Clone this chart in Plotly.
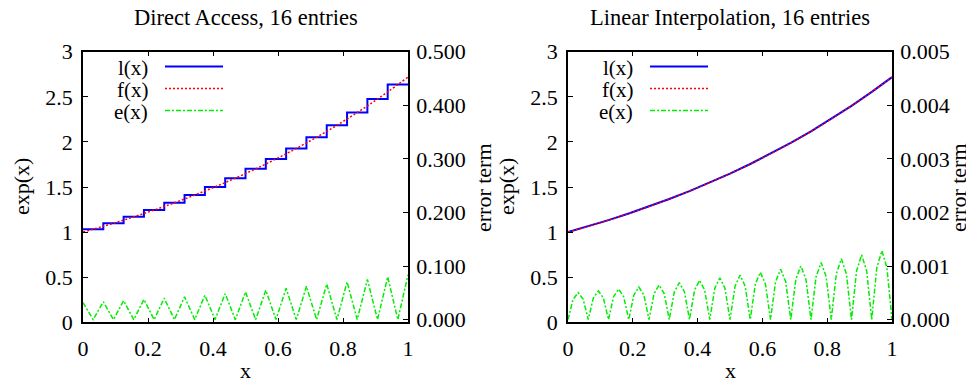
import plotly.graph_objects as go

# ---------------- data ----------------
# x positions of the 16-entry table boundaries
x_bounds = [0, 0.0625, 0.125, 0.1875, 0.25, 0.3125, 0.375, 0.4375, 0.5,
            0.5625, 0.625, 0.6875, 0.75, 0.8125, 0.875, 0.9375, 1.0]
# f(x) = exp(x) at the boundaries
f_vals = [1.000, 1.064, 1.133, 1.206, 1.284, 1.367, 1.455, 1.549, 1.649,
          1.755, 1.868, 1.989, 2.117, 2.254, 2.399, 2.554, 2.718]
# Direct access table values (step heights)
direct_table = [1.032, 1.098, 1.169, 1.245, 1.325, 1.410, 1.501, 1.598,
                1.701, 1.811, 1.928, 2.052, 2.184, 2.325, 2.475, 2.635]
# Direct access error at the boundaries (zero at interval mid-points)
direct_err_peaks = [0.0317, 0.0333, 0.0354, 0.0377, 0.0401, 0.0427, 0.0455,
                    0.0484, 0.0515, 0.0548, 0.0584, 0.0622, 0.0662, 0.0704,
                    0.0750, 0.0798, 0.0836]
# Linear interpolation error: peak at interval mid-points, and at quarter points
lin_err_peaks = [0.000504, 0.000536, 0.000571, 0.000608, 0.000647, 0.000689,
                 0.000733, 0.000780, 0.000831, 0.000884, 0.000941, 0.001002,
                 0.001066, 0.001135, 0.001209, 0.001286]
lin_err_quarter = [0.000378, 0.000402, 0.000428, 0.000456, 0.000485, 0.000517,
                   0.000550, 0.000585, 0.000623, 0.000663, 0.000706, 0.000751,
                   0.000800, 0.000851, 0.000907, 0.000965]

titles = ["Direct Access, 16 entries", "Linear Interpolation, 16 entries"]
legend_names = ["l(x)", "f(x)", "e(x)"]
x_ticks = [0, 0.2, 0.4, 0.6, 0.8, 1]
y_ticks = [0, 0.5, 1, 1.5, 2, 2.5, 3]
y2_ticks_left = [0, 0.1, 0.2, 0.3, 0.4, 0.5]
y2_ticks_right = [0, 0.001, 0.002, 0.003, 0.004, 0.005]

# ---------------- derived sequences ----------------
n = len(direct_table)
step_x = x_bounds
step_y = direct_table + [direct_table[-1]]

derr_x, derr_y = [], []
for k in range(n):
    derr_x += [x_bounds[k], (x_bounds[k] + x_bounds[k + 1]) / 2]
    derr_y += [direct_err_peaks[k], 0]
derr_x.append(x_bounds[-1])
derr_y.append(direct_err_peaks[-1])

lerr_x, lerr_y = [], []
for k in range(n):
    a, b = x_bounds[k], x_bounds[k + 1]
    h = b - a
    lerr_x += [a, a + h / 4, a + h / 2, a + 3 * h / 4]
    lerr_y += [0, lin_err_quarter[k], lin_err_peaks[k], lin_err_quarter[k]]
lerr_x.append(x_bounds[-1])
lerr_y.append(0)

# ---------------- styles ----------------
OFF = 8                            # page body margin of the html page
W, H = 974 - 2 * OFF, 386 - 2 * OFF  # figure fits the window without scrolling
FONT = "Liberation Serif"
FS = 22
BLUE, RED, GREEN = "#0000ff", "#ff0000", "#00ee00"
DOT = "2px,2px"
DASHDOT = "5px,2px,2px,2px"


def px(xp):
    return (xp - OFF) / W


def py(yp):
    return 1 - (yp - OFF) / H


fig = go.Figure()

# Left panel
fig.add_trace(go.Scatter(x=step_x, y=step_y, mode="lines", line=dict(color=BLUE, width=2, shape="hv"),
                         xaxis="x", yaxis="y", showlegend=False))
fig.add_trace(go.Scatter(x=x_bounds, y=f_vals, mode="lines", line=dict(color=RED, width=1.5, dash=DOT, shape="spline"),
                         xaxis="x", yaxis="y", showlegend=False))
fig.add_trace(go.Scatter(x=derr_x, y=derr_y, mode="lines", line=dict(color=GREEN, width=1.5, dash=DASHDOT),
                         xaxis="x", yaxis="y2", showlegend=False))

# Right panel
fig.add_trace(go.Scatter(x=x_bounds, y=f_vals, mode="lines", line=dict(color=BLUE, width=2),
                         xaxis="x2", yaxis="y3", showlegend=False))
fig.add_trace(go.Scatter(x=x_bounds, y=f_vals, mode="lines", line=dict(color=RED, width=1.5, dash=DOT, shape="spline"),
                         xaxis="x2", yaxis="y3", showlegend=False))
fig.add_trace(go.Scatter(x=lerr_x, y=lerr_y, mode="lines", line=dict(color=GREEN, width=1.5, dash=DASHDOT),
                         xaxis="x2", yaxis="y4", showlegend=False))

# panel geometry in page pixels
panels = [(83, 408), (568, 892)]
top_px, bot_px = 51.7, 322.3
ydom = [py(bot_px), py(top_px)]

axis_common = dict(showline=True, linecolor="black", linewidth=1.5, ticks="inside", ticklen=5,
                   tickcolor="black", showgrid=False, zeroline=False, automargin=False,
                   tickfont=dict(family=FONT, size=FS, color="black"))

for i, (xl, xr) in enumerate(panels):
    xa = "xaxis" if i == 0 else "xaxis2"
    ya = "yaxis" if i == 0 else "yaxis3"
    y2a = "yaxis2" if i == 0 else "yaxis4"
    xid = "x" if i == 0 else "x2"
    yid = "y" if i == 0 else "y3"
    fig.layout[xa] = dict(axis_common, domain=[px(xl), px(xr)], range=[0, 1], tickvals=x_ticks,
                          ticktext=[f"{v:g}" for v in x_ticks], mirror="ticks", anchor=yid,
                          ticklabelstandoff=6)
    fig.layout[ya] = dict(axis_common, domain=ydom, range=[0, 3], tickvals=y_ticks,
                          ticktext=[f"{v:g}" for v in y_ticks], anchor=xid, ticklabelstandoff=4)
    if i == 0:
        rng, tv = [-0.005, 0.5], y2_ticks_left
    else:
        rng, tv = [-0.00005, 0.005], y2_ticks_right
    fig.layout[y2a] = dict(axis_common, overlaying=yid, side="right", anchor=xid, range=rng,
                           tickvals=tv, ticktext=[f"{v:.3f}" for v in tv], ticklabelstandoff=2)

    cx = (xl + xr) / 2
    # title
    fig.add_annotation(x=px(cx), y=py(18), xref="paper", yref="paper", text=titles[i], showarrow=False,
                       font=dict(family=FONT, size=22.5, color="black"), xanchor="center", yanchor="middle")
    # x label
    fig.add_annotation(x=px(cx), y=py(370), xref="paper", yref="paper", text="x", showarrow=False,
                       font=dict(family=FONT, size=FS, color="black"), xanchor="center", yanchor="middle")
    # y labels
    fig.add_annotation(x=px(xl - 61), y=py(187), xref="paper", yref="paper", text="exp(x)",
                       textangle=-90, showarrow=False, font=dict(family=FONT, size=FS, color="black"),
                       xanchor="center", yanchor="middle")
    fig.add_annotation(x=px(min(xr + 75, 958)), y=py(188), xref="paper", yref="paper", text="error term",
                       textangle=-90, showarrow=False, font=dict(family=FONT, size=FS, color="black"),
                       xanchor="center", yanchor="middle")
    # legend
    rows = [68, 90, 112]
    styles = [dict(color=BLUE, width=2), dict(color=RED, width=1.5, dash=DOT),
              dict(color=GREEN, width=1.5, dash=DASHDOT)]
    for name, ry, st in zip(legend_names, rows, styles):
        fig.add_annotation(x=px(xl + 67), y=py(ry), xref="paper", yref="paper", text=name,
                           showarrow=False, font=dict(family=FONT, size=21, color="black"),
                           xanchor="right", yanchor="middle")
        fig.add_shape(type="line", xref="paper", yref="paper", x0=px(xl + 82), x1=px(xl + 140),
                      y0=py(ry - 1.5), y1=py(ry - 1.5), line=st)

fig.update_layout(template="none", width=W, height=H, margin=dict(l=0, r=0, t=0, b=0),
                  paper_bgcolor="white", plot_bgcolor="white", showlegend=False,
                  font=dict(family=FONT, size=FS, color="black"))

fig.write_html("out.html")
